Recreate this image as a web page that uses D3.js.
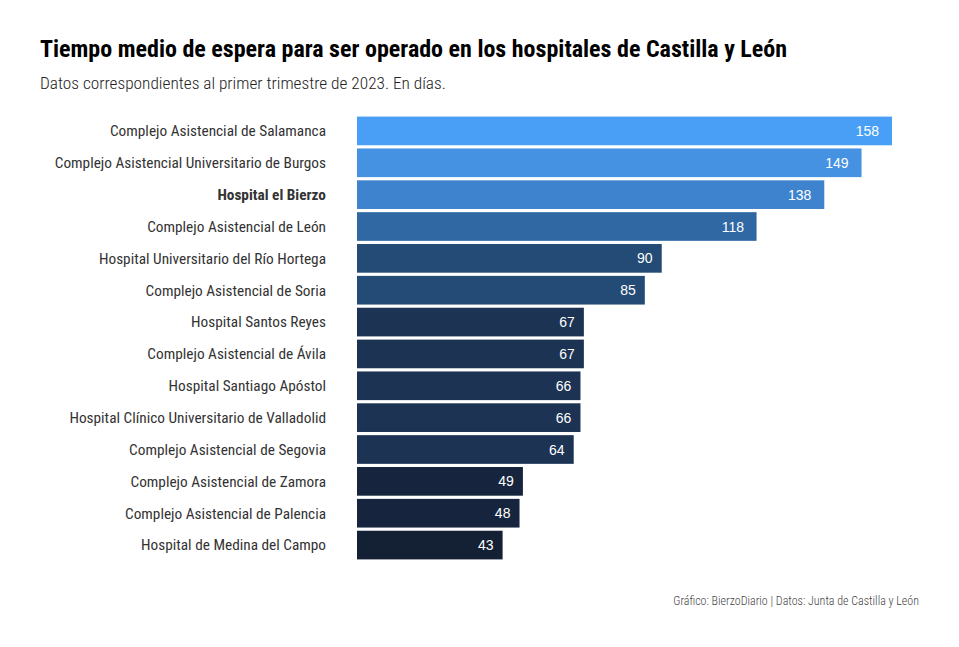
<!DOCTYPE html>
<html><head><meta charset="utf-8">
<script src="https://cdn.jsdelivr.net/npm/d3@7"></script>
<style>body{margin:0;background:#fff}svg{display:block}</style>
</head><body>
<svg id="chart" width="959" height="647"></svg>
<script>
const categories = [
  "Complejo Asistencial de Salamanca",
  "Complejo Asistencial Universitario de Burgos",
  "Hospital el Bierzo",
  "Complejo Asistencial de León",
  "Hospital Universitario del Río Hortega",
  "Complejo Asistencial de Soria",
  "Hospital Santos Reyes",
  "Complejo Asistencial de Ávila",
  "Hospital Santiago Apóstol",
  "Hospital Clínico Universitario de Valladolid",
  "Complejo Asistencial de Segovia",
  "Complejo Asistencial de Zamora",
  "Complejo Asistencial de Palencia",
  "Hospital de Medina del Campo"
];
const values = [158, 149, 138, 118, 90, 85, 67, 67, 66, 66, 64, 49, 48, 43];
const highlighted = ["Hospital el Bierzo"];
const title = "Tiempo medio de espera para ser operado en los hospitales de Castilla y León";
const subtitle = "Datos correspondientes al primer trimestre de 2023. En días.";
const caption = "Gráfico: BierzoDiario | Datos: Junta de Castilla y León";

const data = categories.map((c, i) => ({cat: c, val: values[i]}));
const svg = d3.select("#chart");
const font = "'Roboto Condensed', Roboto, sans-serif";

const x = d3.scaleLinear().domain([0, d3.max(values)]).range([357, 892]);
const y = d3.scaleBand().domain(categories).range([115, 561]).paddingInner(0.1).paddingOuter(0.05);
const color = d3.scaleThreshold()
  .domain([45, 55, 75, 95, 125, 145, 155])
  .range(["#142034", "#16253d", "#1c3353", "#244b75", "#2f68a3", "#3e83cd", "#4591e2", "#499ff6"]);

svg.append("text").text(title).attr("x", 40).attr("y", 57)
  .attr("font-family", font).attr("font-weight", 700).attr("font-size", 24).attr("fill", "#000");
svg.append("text").text(subtitle).attr("x", 40).attr("y", 89)
  .attr("font-family", font).attr("font-weight", 300).attr("font-size", 17.3).attr("fill", "#222");

svg.append("g").selectAll("rect").data(data).join("rect")
  .attr("x", x(0)).attr("y", d => y(d.cat))
  .attr("width", d => x(d.val) - x(0)).attr("height", y.bandwidth())
  .attr("fill", d => color(d.val));

const ax = svg.append("g").attr("transform", `translate(${x(0)},0)`)
  .call(d3.axisLeft(y).tickSize(0).tickPadding(31));
ax.select(".domain").remove();
ax.selectAll(".tick text")
  .attr("dy", "0.35em")
  .attr("font-family", font).attr("font-size", 15.3).attr("fill", "#333")
  .attr("font-weight", d => highlighted.includes(d) ? 700 : 400);

svg.append("g").selectAll("text").data(data).join("text")
  .attr("y", d => y(d.cat) + y.bandwidth() / 2)
  .attr("dy", "0.36em").attr("text-anchor", "end")
  .attr("font-family", "'Liberation Sans', Arial, sans-serif").attr("font-size", 14)
  .attr("fill", "#fff").text(d => d.val)
  .attr("x", function(d) { return x(d.val) - 0.5 * this.getComputedTextLength() - 1.3; });

svg.append("text").text(caption).attr("x", 919).attr("y", 605).attr("text-anchor", "end")
  .attr("font-family", font).attr("font-weight", 300).attr("font-size", 12).attr("fill", "#444");
</script>
</body></html>
